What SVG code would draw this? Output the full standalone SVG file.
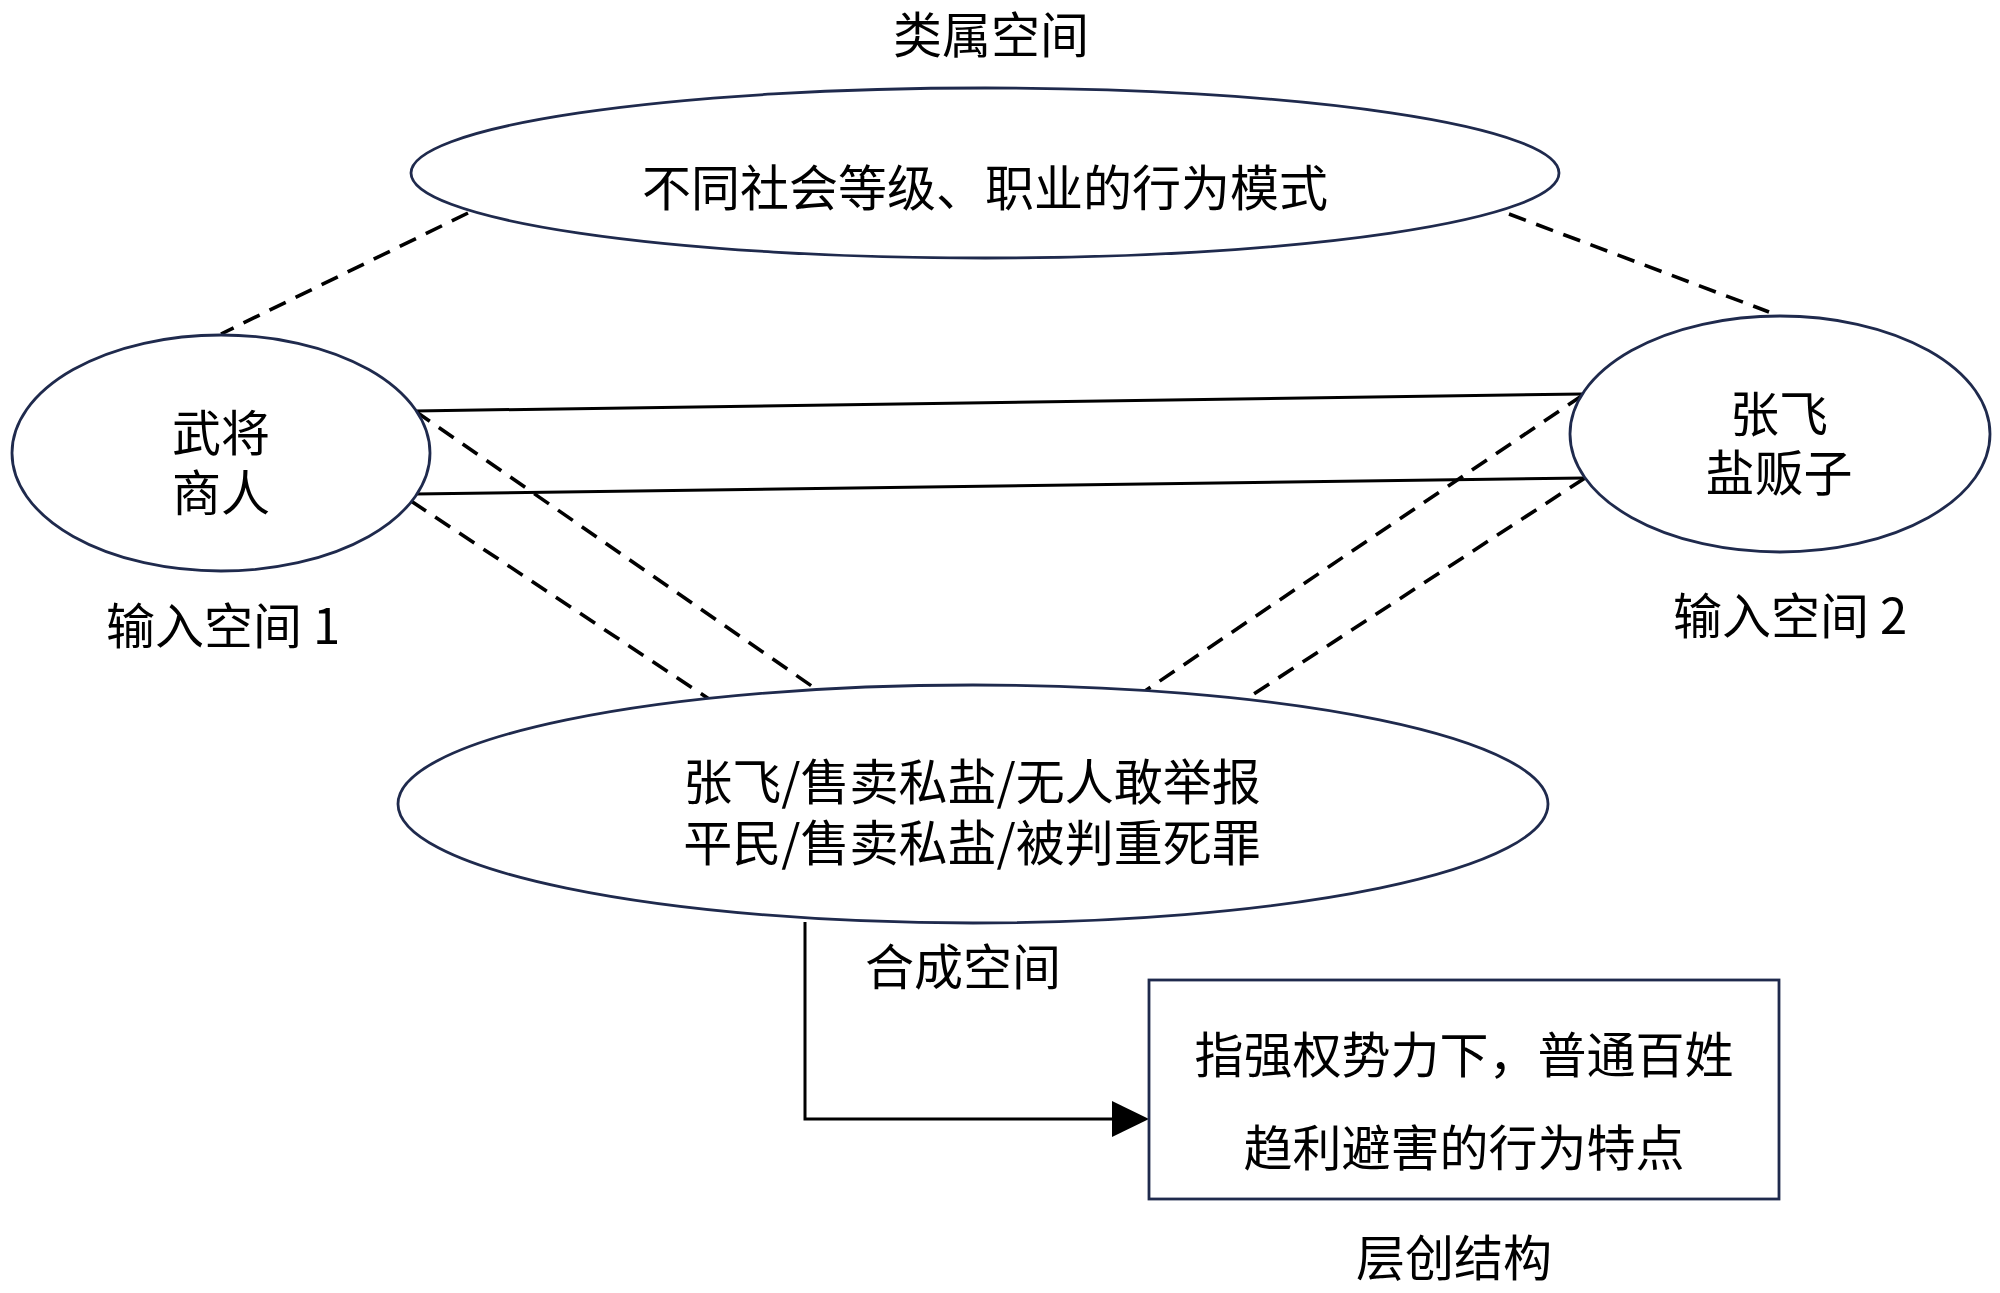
<svg xmlns="http://www.w3.org/2000/svg" width="2000" height="1293" viewBox="0 0 2000 1293">
<defs>
<style>
.node{fill:#ffffff;stroke:#1f2a4d;stroke-width:2.8}
.t{font-family:"Noto Sans CJK SC","Noto Sans",sans-serif;font-size:49px;fill:#000000;text-anchor:middle;dominant-baseline:central}
.solid{stroke:#000000;stroke-width:3;fill:none}
.dash{stroke:#000000;stroke-width:3.6;fill:none;stroke-dasharray:18 11}
</style>
</defs>
<rect x="0" y="0" width="2000" height="1293" fill="#ffffff"/>
<g id="connectors">
<line class="dash" x1="468" y1="213" x2="221" y2="334"/>
<line class="dash" x1="1509" y1="214" x2="1769" y2="312"/>
<line class="solid" x1="415" y1="411" x2="1583" y2="394"/>
<line class="solid" x1="415" y1="494" x2="1585" y2="478"/>
<line class="dash" x1="415" y1="411" x2="816" y2="689"/>
<line class="dash" x1="411" y1="501" x2="709" y2="699"/>
<line class="dash" x1="1583" y1="395" x2="1145" y2="691"/>
<line class="dash" x1="1585" y1="478" x2="1246" y2="699"/>
<polyline class="solid" points="805,922 805,1119 1112,1119"/>
<path d="M1112,1101 L1149,1119 L1112,1137 Z" fill="#000000"/>
</g>
<g id="generic">
<text class="t" x="991" y="31">类属空间</text>
<ellipse class="node" cx="985" cy="173" rx="574" ry="85"/>
<text class="t" x="985" y="184">不同社会等级、职业的行为模式</text>
</g>
<g id="input1">
<ellipse class="node" cx="221" cy="453" rx="209" ry="118"/>
<text class="t" x="221" y="429">武将</text>
<text class="t" x="221" y="489">商人</text>
<text class="t" x="223" y="622">输入空间 1</text>
</g>
<g id="input2">
<ellipse class="node" cx="1780" cy="434" rx="210" ry="118"/>
<text class="t" x="1779" y="410">张飞</text>
<text class="t" x="1779" y="469">盐贩子</text>
<text class="t" x="1790" y="612">输入空间 2</text>
</g>
<g id="blend">
<ellipse class="node" cx="973" cy="804" rx="575" ry="119"/>
<text class="t" x="972" y="778">张飞/售卖私盐/无人敢举报</text>
<text class="t" x="972" y="839">平民/售卖私盐/被判重死罪</text>
<text class="t" x="963" y="963">合成空间</text>
</g>
<g id="emergent">
<rect class="node" x="1149" y="980" width="630" height="219"/>
<text class="t" x="1464" y="1051">指强权势力下，普通百姓</text>
<text class="t" x="1464" y="1144">趋利避害的行为特点</text>
<text class="t" x="1454" y="1254">层创结构</text>
</g>
</svg>
